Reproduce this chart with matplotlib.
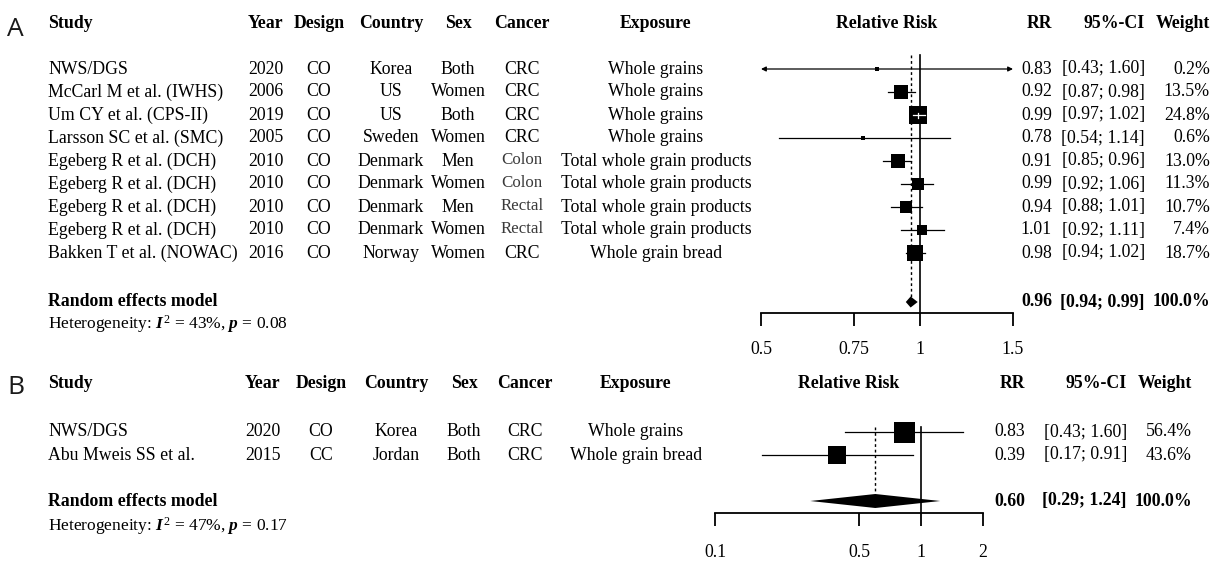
import matplotlib.pyplot as plt
import numpy as np

plt.rcParams['mathtext.fontset'] = 'custom'
plt.rcParams['mathtext.rm'] = 'Liberation Serif'
plt.rcParams['mathtext.it'] = 'Liberation Serif:italic:bold'

SERIF = 'Liberation Serif'
FS = 12.8

# ---------------- Panel A data ----------------
a_study = ['NWS/DGS', 'McCarl M et al. (IWHS)', 'Um CY et al. (CPS-II)', 'Larsson SC et al. (SMC)',
           'Egeberg R et al. (DCH)', 'Egeberg R et al. (DCH)', 'Egeberg R et al. (DCH)',
           'Egeberg R et al. (DCH)', 'Bakken T et al. (NOWAC)']
a_year = ['2020', '2006', '2019', '2005', '2010', '2010', '2010', '2010', '2016']
a_design = ['CO', 'CO', 'CO', 'CO', 'CO', 'CO', 'CO', 'CO', 'CO']
a_country = ['Korea', 'US', 'US', 'Sweden', 'Denmark', 'Denmark', 'Denmark', 'Denmark', 'Norway']
a_sex = ['Both', 'Women', 'Both', 'Women', 'Men', 'Women', 'Men', 'Women', 'Women']
a_cancer = ['CRC', 'CRC', 'CRC', 'CRC', 'Colon', 'Colon', 'Rectal', 'Rectal', 'CRC']
a_exposure = ['Whole grains', 'Whole grains', 'Whole grains', 'Whole grains',
              'Total whole grain products', 'Total whole grain products',
              'Total whole grain products', 'Total whole grain products', 'Whole grain bread']
a_rr = [0.83, 0.92, 0.99, 0.78, 0.91, 0.99, 0.94, 1.01, 0.98]
a_lo = [0.43, 0.87, 0.97, 0.54, 0.85, 0.92, 0.88, 0.92, 0.94]
a_hi = [1.60, 0.98, 1.02, 1.14, 0.96, 1.06, 1.01, 1.11, 1.02]
a_weight = [0.2, 13.5, 24.8, 0.6, 13.0, 11.3, 10.7, 7.4, 18.7]
a_pooled = [0.96, 0.94, 0.99]
a_het = 'Heterogeneity: $I^2$ = 43%, $p$ = 0.08'
a_ticks = [0.5, 0.75, 1, 1.5]
a_ticklabels = ['0.5', '0.75', '1', '1.5']

# ---------------- Panel B data ----------------
b_study = ['NWS/DGS', 'Abu Mweis SS et al.']
b_year = ['2020', '2015']
b_design = ['CO', 'CC']
b_country = ['Korea', 'Jordan']
b_sex = ['Both', 'Both']
b_cancer = ['CRC', 'CRC']
b_exposure = ['Whole grains', 'Whole grain bread']
b_rr = [0.83, 0.39]
b_lo = [0.43, 0.17]
b_hi = [1.60, 0.91]
b_weight = [56.4, 43.6]
b_pooled = [0.60, 0.29, 1.24]
b_het = 'Heterogeneity: $I^2$ = 47%, $p$ = 0.17'
b_ticks = [0.1, 0.5, 1, 2]
b_ticklabels = ['0.1', '0.5', '1', '2']

headers = ['Study', 'Year', 'Design', 'Country', 'Sex', 'Cancer', 'Exposure',
           'Relative Risk', 'RR', '95%-CI', 'Weight']

W, H = 1220, 562
fig = plt.figure(figsize=(W / 100, H / 100), dpi=100)
tx = fig.add_axes([0, 0, 1, 1])
tx.set_xlim(0, W)
tx.set_ylim(H, 0)
tx.axis('off')


def draw_panel(label, study, year, design, country, sex, cancer, exposure,
               rr, lo, hi, weight, pooled, het, ticks, ticklabels, lay):
    # panel letter
    tx.text(7, lay['label_y'], label, fontsize=19, family='Open Sans', color='#1a1a1a',
            ha='left', va='center')
    c = lay['cols']
    # headers
    hx = [(c['study'], 'left'), (c['year'], 'left'), (c['design'], 'center'),
          (c['country'], 'center'), (c['sex'], 'center'), (c['cancer'], 'center'),
          (c['exposure'], 'center'), ((lay['ax0'] + lay['ax1']) / 2, 'center'),
          (c['rr'], 'right'), (c['ci'], 'right'), (c['w'], 'right')]
    for h, (x, ha) in zip(headers, hx):
        tx.text(x, lay['head_y'], h, fontsize=FS, family=SERIF, weight='bold',
                ha=ha, va='center')

    ys = [lay['row0'] + i * lay['step'] for i in range(len(study))]
    for i, y in enumerate(ys):
        kw = dict(fontsize=FS, family=SERIF, va='center')
        tx.text(c['study'], y, study[i], ha='left', **kw)
        tx.text(c['year'], y, year[i], ha='left', **kw)
        tx.text(c['design'], y, design[i], ha='center', **kw)
        tx.text(c['country'], y, country[i], ha='center', **kw)
        tx.text(c['sex'], y, sex[i], ha='center', **kw)
        if cancer[i] in ('Colon', 'Rectal'):
            tx.text(c['cancer'], y - 1, cancer[i], ha='center', fontsize=FS - 0.6,
                    family=SERIF, va='center', color='#3a3a3a')
        else:
            tx.text(c['cancer'], y, cancer[i], ha='center', **kw)
        tx.text(c['exposure'], y, exposure[i], ha='center', **kw)
        tx.text(c['rr'], y, f'{rr[i]:.2f}', ha='right', **kw)
        tx.text(c['ci'], y, f'[{lo[i]:.2f}; {hi[i]:.2f}]', ha='right', **kw)
        tx.text(c['w'], y, f'{weight[i]:.1f}%', ha='right', **kw)

    py = lay['pool_y']
    kb = dict(fontsize=FS, family=SERIF, weight='bold', va='center')
    tx.text(c['study'], py, 'Random effects model', ha='left', **kb)
    tx.text(c['rr'], py, f'{pooled[0]:.2f}', ha='right', **kb)
    tx.text(c['ci'], py, f'[{pooled[1]:.2f}; {pooled[2]:.2f}]', ha='right', **kb)
    tx.text(c['w'], py, '100.0%', ha='right', **kb)
    tx.text(c['study'], lay['het_y'], het, fontsize=FS - 0.3, family=SERIF,
            ha='left', va='center')

    # forest area
    x0, x1 = lay['ax0'], lay['ax1']
    fa = fig.add_axes([x0 / W, 0, (x1 - x0) / W, 1])
    fa.patch.set_alpha(0)
    fa.set_xscale('log')
    xmin, xmax = ticks[0], ticks[-1]
    fa.set_xlim(xmin, xmax)
    fa.set_ylim(H, 0)
    for s in ('left', 'top', 'right'):
        fa.spines[s].set_visible(False)
    fa.spines['bottom'].set_position(('data', lay['axis_y']))
    fa.spines['bottom'].set_linewidth(1.3)
    fa.set_yticks([])
    fa.minorticks_off()
    fa.set_xticks(ticks, ticklabels)
    fa.tick_params(axis='x', direction='out', length=9, width=1.3, pad=lay['pad'],
                   labelsize=FS)
    for t in fa.get_xticklabels():
        t.set_family(SERIF)

    px_per_ln = (x1 - x0) / np.log(xmax / xmin)
    wmax = max(weight)
    for i, y in enumerate(ys):
        side = lay['box'] * np.sqrt(weight[i] / wmax) + 1.5
        l, h = max(lo[i], xmin), min(hi[i], xmax)
        if lo[i] < xmin or hi[i] > xmax:
            style = '<|-|>' if (lo[i] < xmin and hi[i] > xmax) else ('<|-' if lo[i] < xmin else '-|>')
            fa.annotate('', xy=(h, y), xytext=(l, y), annotation_clip=False,
                        arrowprops=dict(arrowstyle=style, lw=0.9, color='black',
                                        mutation_scale=7, shrinkA=0, shrinkB=0))
        else:
            fa.plot([l, h], [y, y], color='black', lw=0.9, clip_on=False, zorder=2)
        fa.scatter([rr[i]], [y], marker='s', s=(side * 0.72) ** 2, c='black',
                   linewidths=0, clip_on=False, zorder=3)
        bl = rr[i] * np.exp(-side / 2 / px_per_ln)
        br = rr[i] * np.exp(side / 2 / px_per_ln)
        if side > 6 and lo[i] >= bl and hi[i] <= br:
            fa.plot([l, h], [y, y], color='white', lw=0.9, clip_on=False, zorder=4)
            fa.plot([rr[i], rr[i]], [y - 2.5, y + 2.5], color='white', lw=0.9,
                    clip_on=False, zorder=4)

    # diamond
    dh = lay['dia_h']
    fa.fill([pooled[1], pooled[0], pooled[2], pooled[0]],
            [py, py - dh, py, py + dh], color='black', lw=0, clip_on=False, zorder=3)
    # reference lines
    fa.plot([1, 1], [lay['line_top'], lay['axis_y']], color='black', lw=1.2,
            clip_on=False, zorder=1)
    fa.plot([pooled[0], pooled[0]], [lay['line_top'], py - dh], color='black', lw=1.0,
            ls=(0, (2, 2)), clip_on=False, zorder=1)


lay_a = dict(head_y=24, label_y=29, row0=69, step=23, pool_y=302, het_y=324, axis_y=313,
             ax0=761, ax1=1013, pad=11, box=17, dia_h=5.5, line_top=55,
             cols=dict(study=48, year=248, design=319, country=391, sex=458, cancer=522,
                       exposure=656, rr=1052, ci=1145, w=1210))
lay_b = dict(head_y=384, label_y=388, row0=432, step=23, pool_y=501, het_y=526, axis_y=513,
             ax0=715, ax1=983, pad=13, box=19.5, dia_h=7, line_top=427,
             cols=dict(study=48, year=245, design=321, country=396, sex=464, cancer=525,
                       exposure=636, rr=1025, ci=1127, w=1192))

draw_panel('A', a_study, a_year, a_design, a_country, a_sex, a_cancer, a_exposure,
           a_rr, a_lo, a_hi, a_weight, a_pooled, a_het, a_ticks, a_ticklabels, lay_a)
draw_panel('B', b_study, b_year, b_design, b_country, b_sex, b_cancer, b_exposure,
           b_rr, b_lo, b_hi, b_weight, b_pooled, b_het, b_ticks, b_ticklabels, lay_b)

fig.savefig('out.png', dpi=100)
